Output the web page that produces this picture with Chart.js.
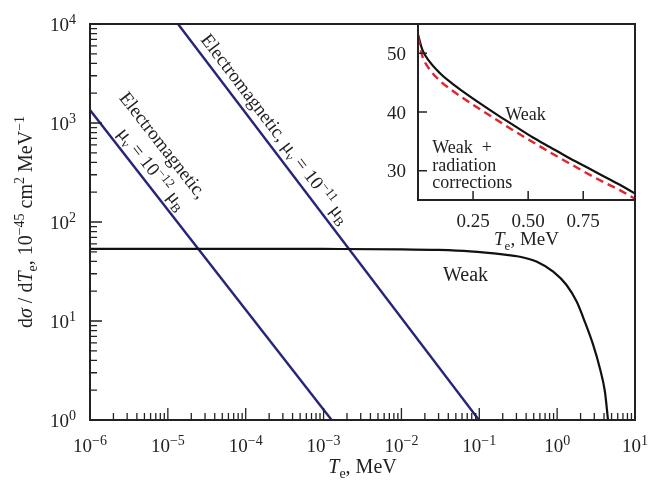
<!DOCTYPE html>
<html>
<head>
<meta charset="utf-8">
<script src="https://cdn.jsdelivr.net/npm/chart.js@4.4.0/dist/chart.umd.min.js"></script>
<style>
  html, body { margin: 0; padding: 0; background: #fff; }
  #wrap { position: relative; width: 661px; height: 485px; }
  #mainChart { position: absolute; left: 0; top: 0; }
  #insetChart { position: absolute; left: 380px; top: 15px; }
</style>
</head>
<body>
<div id="wrap">
  <canvas id="mainChart" width="661" height="485"></canvas>
  <canvas id="insetChart" width="260" height="235"></canvas>
</div>
<script>
// Main plot: weak cross-section (black) and electromagnetic ones (blue)
const weakT = [1e-6, 1e-4, 1e-3, 1e-2, 0.03, 0.076, 0.2, 0.33, 0.55, 0.89, 1.32, 1.78, 2.27, 2.91, 3.55, 4.11, 4.5, 4.6];
const weakSigma = [53.5, 53.5, 53.4, 53.0, 52.2, 50.5, 47.0, 44.6, 39.7, 31.5, 23.1, 15.7, 9.8, 5.7, 3.3, 1.93, 1.0, 0.85];
const em12T = [1e-6, 1.27e-3];
const em12Sigma = [1350, 1];
const em11T = [1.35e-5, 0.099];
const em11Sigma = [1e4, 1];
const xTickPowers = [-6, -5, -4, -3, -2, -1, 0, 1];
const yTickPowers = [0, 1, 2, 3, 4];

// Inset: weak vs weak + radiation corrections, linear axes
const insetT = [0, 0.02, 0.05, 0.1, 0.15, 0.2, 0.28, 0.36, 0.44, 0.52, 0.6, 0.68, 0.76, 0.84, 0.92, 0.985];
const insetWeak = [53.2, 50.6, 48.7, 46.6, 45.0, 43.6, 41.5, 39.5, 37.6, 35.7, 34.0, 32.3, 30.7, 29.1, 27.5, 26.1];
const insetRadT = [0, 0.02, 0.05, 0.1, 0.15, 0.2, 0.28, 0.36, 0.44, 0.52, 0.6, 0.68, 0.76, 0.84, 0.92, 0.985];
const insetRad = [52.7, 49.5, 47.4, 45.3, 43.8, 42.5, 40.5, 38.6, 36.7, 34.9, 33.1, 31.4, 29.7, 28.1, 26.6, 25.2];
const insetXTicks = [0.25, 0.5, 0.75];
const insetXLabels = ['0.25', '0.50', '0.75'];
const insetYTicks = [30, 40, 50];

const serif = "'Liberation Serif', 'Times New Roman', serif";
const ink = '#222';
const navy = '#25247a';

function toPoints(xs, ys) {
    return xs.map(function (v, i) { return { x: v, y: ys[i] }; });
}

function setFont(ctx, size, italic) {
    ctx.font = (italic ? 'italic ' : '') + size + 'px ' + serif;
}

function part(t, s, opt) {
    return Object.assign({ t: t, s: s }, opt || {});
}

// draws a run of text pieces (for sub/superscripts) on one baseline
function drawRich(ctx, parts, x, y, align) {
    let w = 0;
    parts.forEach(function (p) { setFont(ctx, p.s, p.i); w += ctx.measureText(p.t).width; });
    let cx = align === 'center' ? x - w / 2 : (align === 'right' ? x - w : x);
    ctx.textAlign = 'left';
    ctx.textBaseline = 'alphabetic';
    parts.forEach(function (p) {
        setFont(ctx, p.s, p.i);
        ctx.fillText(p.t, cx, y + (p.dy || 0));
        cx += ctx.measureText(p.t).width;
    });
}

function powerLabel(p) {
    return [part('10', 19), part(p < 0 ? '\u2212' + (-p) : '' + p, 14, { dy: -7 })];
}

function teLabel(size, sub) {
    return [part('T', size, { i: true }), part('e', sub, { dy: 5 }), part(', MeV', size)];
}

// position along a straight line given by two data points, with a perpendicular offset
function onLine(chart, xs, ys, along, perp) {
    const sx = chart.scales.x, sy = chart.scales.y;
    const p0 = { x: sx.getPixelForValue(xs[0]), y: sy.getPixelForValue(ys[0]) };
    const p1 = { x: sx.getPixelForValue(xs[1]), y: sy.getPixelForValue(ys[1]) };
    const len = Math.hypot(p1.x - p0.x, p1.y - p0.y);
    const u = { x: (p1.x - p0.x) / len, y: (p1.y - p0.y) / len };
    return {
        x: p0.x + u.x * along + u.y * perp,
        y: p0.y + u.y * along - u.x * perp,
        angle: Math.atan2(u.y, u.x)
    };
}

function rotatedText(ctx, pos, parts) {
    ctx.save();
    ctx.translate(pos.x, pos.y);
    ctx.rotate(pos.angle);
    drawRich(ctx, parts, 0, 0, 'left');
    ctx.restore();
}

const mainDecor = {
    id: 'mainDecor',
    afterDraw: function (chart) {
        const ctx = chart.ctx, a = chart.chartArea;
        const sx = chart.scales.x, sy = chart.scales.y;
        ctx.save();
        ctx.strokeStyle = ink;
        ctx.fillStyle = ink;
        ctx.lineWidth = 2;
        ctx.strokeRect(a.left, a.top, a.right - a.left, a.bottom - a.top);

        // inward ticks, decades plus 2..9 minors
        ctx.lineWidth = 1.3;
        ctx.beginPath();
        xTickPowers.forEach(function (p) {
            for (let m = 1; m <= 9; m++) {
                const v = m * Math.pow(10, p);
                if (v > sx.max * 1.0001) break;
                const px = sx.getPixelForValue(v);
                const len = m === 1 ? 12 : 7;
                ctx.moveTo(px, a.bottom);
                ctx.lineTo(px, a.bottom - len);
            }
        });
        yTickPowers.forEach(function (p) {
            for (let m = 1; m <= 9; m++) {
                const v = m * Math.pow(10, p);
                if (v > sy.max * 1.0001) break;
                const py = sy.getPixelForValue(v);
                const len = m === 1 ? 12 : 7;
                ctx.moveTo(a.left, py);
                ctx.lineTo(a.left + len, py);
            }
        });
        ctx.stroke();

        xTickPowers.forEach(function (p) {
            drawRich(ctx, powerLabel(p), sx.getPixelForValue(Math.pow(10, p)), a.bottom + 32, 'center');
        });
        yTickPowers.forEach(function (p) {
            drawRich(ctx, powerLabel(p), a.left - 14, sy.getPixelForValue(Math.pow(10, p)) + 7, 'right');
        });

        // axis titles
        drawRich(ctx, teLabel(20, 14), (a.left + a.right) / 2, a.bottom + 53, 'center');
        ctx.save();
        ctx.translate(a.left - 58, (a.top + a.bottom) / 2);
        ctx.rotate(-Math.PI / 2);
        drawRich(ctx, [
            part('d', 20), part('\u03c3', 20, { i: true }), part(' / d', 20), part('T', 20, { i: true }),
            part('e', 14, { dy: 5 }), part(', 10', 20), part('\u221245', 14, { dy: -8 }),
            part(' cm', 20), part('2', 14, { dy: -8 }), part(' MeV', 20), part('\u22121', 14, { dy: -8 })
        ], 0, 0, 'center');
        ctx.restore();

        // curve labels
        drawRich(ctx, [part('Weak', 20)], sx.getPixelForValue(0.0342), sy.getPixelForValue(25.5), 'left');
        const mu = function (exp) {
            return [part('\u03bc', 19), part('\u03bd', 13, { dy: 4 }), part(' = 10', 19),
                part('\u2212' + exp, 13, { dy: -7 }), part(' \u03bc', 19), part('B', 13, { dy: 4 })];
        };
        rotatedText(ctx, onLine(chart, em12T, em12Sigma, 8, 30), [part('Electromagnetic,', 19)]);
        rotatedText(ctx, onLine(chart, em12T, em12Sigma, 35, 7), mu(12));
        rotatedText(ctx, onLine(chart, em11T, em11Sigma, 26, 8),
            [part('Electromagnetic, ', 19)].concat(mu(11)));
        ctx.restore();
    }
};

const insetDecor = {
    id: 'insetDecor',
    afterDraw: function (chart) {
        const ctx = chart.ctx, a = chart.chartArea;
        const sx = chart.scales.x, sy = chart.scales.y;
        ctx.save();
        ctx.strokeStyle = ink;
        ctx.fillStyle = ink;
        ctx.lineWidth = 2;
        ctx.strokeRect(a.left, a.top, a.right - a.left, a.bottom - a.top);
        ctx.lineWidth = 1.5;
        ctx.beginPath();
        insetXTicks.forEach(function (v) {
            const px = sx.getPixelForValue(v);
            ctx.moveTo(px, a.bottom);
            ctx.lineTo(px, a.bottom - 9);
        });
        insetYTicks.forEach(function (v) {
            const py = sy.getPixelForValue(v);
            ctx.moveTo(a.left, py);
            ctx.lineTo(a.left + 9, py);
        });
        ctx.stroke();
        insetXTicks.forEach(function (v, i) {
            drawRich(ctx, [part(insetXLabels[i], 19)], sx.getPixelForValue(v), a.bottom + 27, 'center');
        });
        insetYTicks.forEach(function (v) {
            drawRich(ctx, [part('' + v, 19)], a.left - 12, sy.getPixelForValue(v) + 6.5, 'right');
        });
        drawRich(ctx, teLabel(19, 13), (a.left + a.right) / 2, a.bottom + 45, 'center');

        drawRich(ctx, [part('Weak', 18)], sx.getPixelForValue(0.396), sy.getPixelForValue(38.7), 'left');
        const lx = sx.getPixelForValue(0.065), ly = sy.getPixelForValue(33.0);
        drawRich(ctx, [part('Weak  +', 18)], lx, ly, 'left');
        drawRich(ctx, [part('radiation', 18)], lx, ly + 17.5, 'left');
        drawRich(ctx, [part('corrections', 18)], lx, ly + 35, 'left');
        ctx.restore();
    }
};

function hiddenScale(type, min, max, fit) {
    return {
        type: type, min: min, max: max,
        ticks: { display: false },
        grid: { display: false },
        border: { display: false },
        afterFit: fit
    };
}

function initMainChart() {
    const ctx = document.getElementById('mainChart').getContext('2d');
    new Chart(ctx, {
        type: 'line',
        data: {
            datasets: [{
                data: toPoints(weakT, weakSigma),
                borderColor: '#111',
                borderWidth: 2.2,
                pointRadius: 0,
                cubicInterpolationMode: 'monotone'
            }, {
                data: toPoints(em12T, em12Sigma),
                borderColor: navy,
                borderWidth: 2.4,
                pointRadius: 0
            }, {
                data: toPoints(em11T, em11Sigma),
                borderColor: navy,
                borderWidth: 2.4,
                pointRadius: 0
            }]
        },
        options: {
            responsive: false,
            animation: false,
            events: [],
            layout: { padding: { top: 24, right: 26, left: 0, bottom: 0 } },
            plugins: { legend: { display: false }, tooltip: { enabled: false } },
            scales: {
                x: hiddenScale('logarithmic', 1e-6, 10, function (s) { s.height = 65; }),
                y: hiddenScale('logarithmic', 1, 1e4, function (s) { s.width = 90; })
            }
        },
        plugins: [mainDecor]
    });
}

function initInsetChart() {
    const ctx = document.getElementById('insetChart').getContext('2d');
    new Chart(ctx, {
        type: 'line',
        data: {
            datasets: [{
                data: toPoints(insetRadT, insetRad),
                borderColor: '#e3232b',
                borderWidth: 2.4,
                borderDash: [8, 5],
                pointRadius: 0,
                cubicInterpolationMode: 'monotone'
            }, {
                data: toPoints(insetT, insetWeak),
                borderColor: '#111',
                borderWidth: 2.2,
                pointRadius: 0,
                cubicInterpolationMode: 'monotone'
            }]
        },
        options: {
            responsive: false,
            animation: false,
            events: [],
            layout: { padding: { top: 9, right: 5, left: 0, bottom: 0 } },
            plugins: { legend: { display: false }, tooltip: { enabled: false } },
            scales: {
                x: hiddenScale('linear', 0, 0.985, function (s) { s.height = 50; }),
                y: hiddenScale('linear', 25, 55, function (s) { s.width = 38; })
            }
        },
        plugins: [insetDecor]
    });
}

initMainChart();
initInsetChart();
</script>
</body>
</html>
